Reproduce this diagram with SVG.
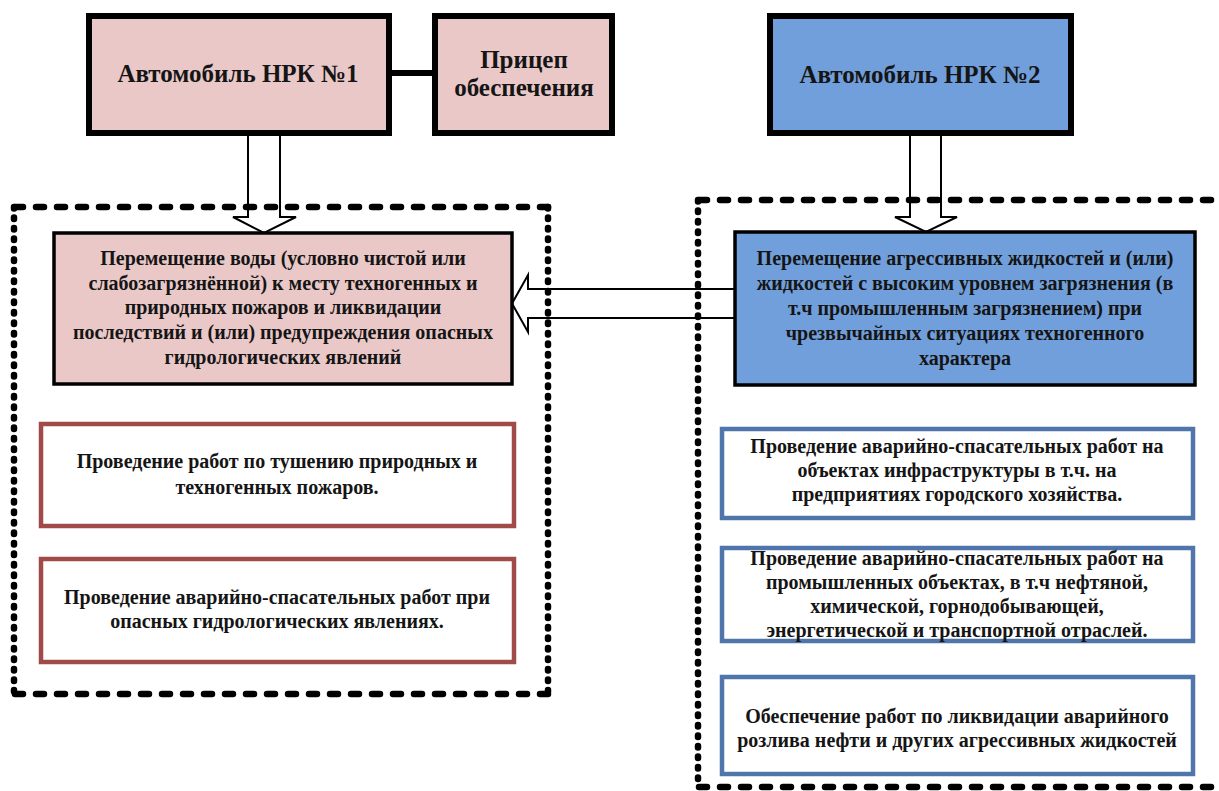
<svg xmlns="http://www.w3.org/2000/svg" width="1219" height="791" viewBox="0 0 1219 791">
<style>
text{font-family:"Liberation Serif","Times New Roman",serif;font-weight:bold;fill:#151515;text-anchor:middle}
.t{font-size:25px}
.b{font-size:20px}
.top{stroke:#000;stroke-width:6}
.pink{fill:#eac8c8}
.blue{fill:#719fdb}
.main{stroke:#000;stroke-width:3.5}
.red{fill:#fff;stroke:#a04a4a;stroke-width:4.5}
.bl{fill:#fff;stroke:#4f75aa;stroke-width:4.5}
.h{fill:none;stroke:#000;stroke-width:6.5;stroke-linecap:round;stroke-dasharray:8 13}
.v{fill:none;stroke:#000;stroke-width:6.5;stroke-linecap:round;stroke-dasharray:1.5 9}
.arr{fill:none;stroke:#000;stroke-width:2}
</style>
<g id="frames">
<line class="h" x1="15" y1="207" x2="548" y2="207"/>
<line class="h" x1="15" y1="694" x2="548" y2="694"/>
<line class="v" x1="14" y1="207" x2="14" y2="694"/>
<line class="v" x1="548" y1="207" x2="548" y2="694"/>
<line class="h" x1="699" y1="200" x2="1225" y2="200"/>
<line class="h" x1="699" y1="787" x2="1225" y2="787"/>
<line class="v" x1="698" y1="200" x2="698" y2="787"/>
</g>
<g id="connectors">
<line x1="389" y1="73" x2="435" y2="73" stroke="#000" stroke-width="6"/>
<path class="arr" d="M248,133 V217 H233 L264,233 L296,217 H280 V133"/>
<path class="arr" d="M910,133 V217 H895 L926,232 L957,217 H941 V133"/>
<path class="arr" d="M735,289 H528 V275 L512,303.5 L528,332 V318 H735"/>
</g>
<g id="n1">
<rect class="top pink" x="89" y="16" width="300" height="117"/>
<text class="t" x="238" y="82">Автомобиль НРК №1</text>
</g>
<g id="n2">
<rect class="top pink" x="435" y="16" width="177" height="117"/>
<text class="t" x="524" y="68">Прицеп</text>
<text class="t" x="524" y="96">обеспечения</text>
</g>
<g id="n3">
<rect class="top blue" x="770" y="16" width="301" height="117"/>
<text class="t" x="920" y="83">Автомобиль НРК №2</text>
</g>
<g id="n4">
<rect class="main pink" x="54" y="233" width="458" height="151"/>
<text class="b" x="283" y="265">Перемещение воды (условно чистой или</text>
<text class="b" x="283" y="290">слабозагрязнённой) к месту техногенных и</text>
<text class="b" x="283" y="314">природных пожаров и ликвидации</text>
<text class="b" x="283" y="339">последствий и (или) предупреждения опасных</text>
<text class="b" x="283" y="364">гидрологических явлений</text>
</g>
<g id="n5">
<rect class="main blue" x="735" y="232" width="460" height="153"/>
<text class="b" x="965" y="265">Перемещение агрессивных жидкостей и (или)</text>
<text class="b" x="965" y="290">жидкостей с высоким уровнем загрязнения (в</text>
<text class="b" x="965" y="315">т.ч промышленным загрязнением) при</text>
<text class="b" x="965" y="340">чрезвычайных ситуациях техногенного</text>
<text class="b" x="965" y="365">характера</text>
</g>
<g id="n6">
<rect class="red" x="41" y="424" width="473" height="102"/>
<text class="b" x="277" y="468">Проведение работ по тушению природных и</text>
<text class="b" x="277" y="494">техногенных пожаров.</text>
</g>
<g id="n7">
<rect class="red" x="41" y="559" width="473" height="103"/>
<text class="b" x="277" y="604">Проведение аварийно-спасательных работ при</text>
<text class="b" x="277" y="628">опасных гидрологических явлениях.</text>
</g>
<g id="n8">
<rect class="bl" x="722" y="429" width="471" height="89"/>
<text class="b" x="957" y="453">Проведение аварийно-спасательных работ на</text>
<text class="b" x="957" y="477">объектах инфраструктуры в т.ч. на</text>
<text class="b" x="957" y="501">предприятиях городского хозяйства.</text>
</g>
<g id="n9">
<rect class="bl" x="722" y="548" width="471" height="93"/>
<text class="b" x="957" y="565">Проведение аварийно-спасательных работ на</text>
<text class="b" x="957" y="589">промышленных объектах, в т.ч нефтяной,</text>
<text class="b" x="957" y="613">химической, горнодобывающей,</text>
<text class="b" x="957" y="637">энергетической и транспортной отраслей.</text>
</g>
<g id="n10">
<rect class="bl" x="722" y="677" width="471" height="97"/>
<text class="b" x="957" y="723">Обеспечение работ по ликвидации аварийного</text>
<text class="b" x="957" y="747">розлива нефти и других агрессивных жидкостей</text>
</g>
</svg>
